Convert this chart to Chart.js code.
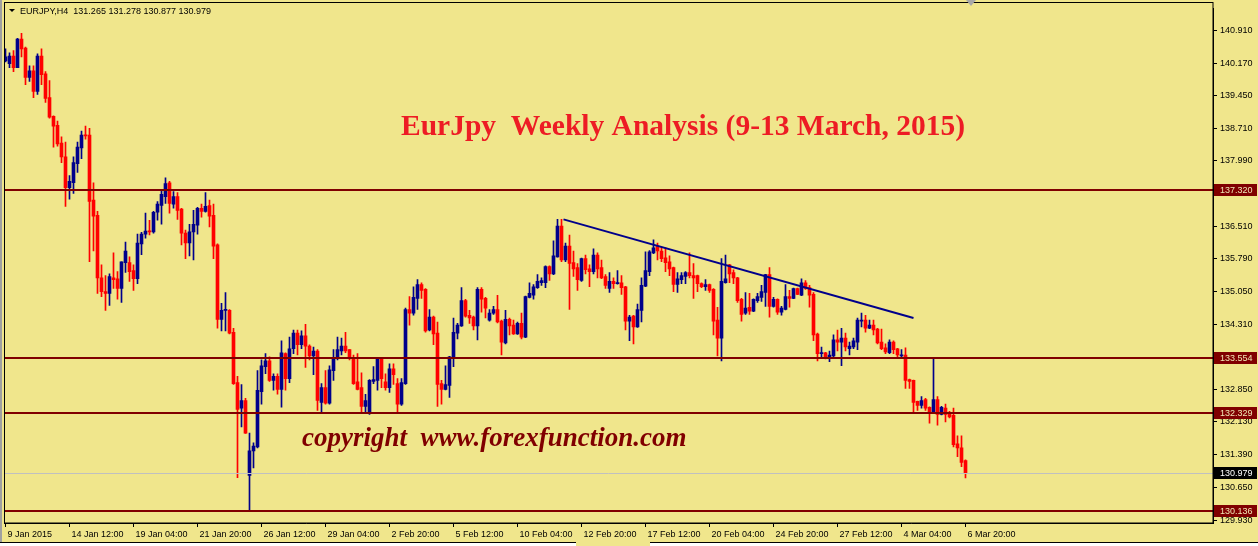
<!DOCTYPE html>
<html>
<head>
<meta charset="utf-8">
<title>EURJPY H4</title>
<script src="https://cdn.jsdelivr.net/npm/chart.js@4.4.1/dist/chart.umd.min.js"></script>
<style>
  html, body { margin: 0; padding: 0; background: #f0e68c; overflow: hidden; }
  #chart { display: block; }
</style>
</head>
<body>
<canvas id="chart" width="1258" height="546"></canvas>
<script>
// --- EURJPY H4 bars, 9 Jan 2015 20:00 .. 6 Mar 2015 20:00 ---
const opens = [
  140.22, 140.16, 140.33, 140.07, 140.71, 140.51, 139.85, 140.00, 139.54, 140.33,
  139.93, 139.40, 138.98, 138.78, 138.38, 138.07, 137.38, 137.49, 137.92, 138.27,
  138.56, 138.56, 137.10, 136.76, 135.36, 135.05, 135.01, 135.36, 135.34, 135.12,
  135.70, 135.70, 135.52, 135.34, 136.12, 136.34, 136.41, 136.39, 136.83, 136.98,
  137.18, 137.49, 137.01, 137.18, 136.90, 136.36, 136.14, 136.39, 136.54, 136.92,
  136.85, 136.98, 136.76, 136.10, 134.43, 134.63, 134.63, 134.14, 133.01, 132.44,
  132.61, 130.93, 131.48, 131.57, 132.81, 133.37, 133.50, 133.06, 133.15, 132.86,
  133.66, 133.10, 133.77, 134.12, 133.86, 134.06, 133.83, 133.61, 133.72, 132.57,
  132.90, 132.55, 133.28, 133.55, 133.72, 133.83, 133.75, 133.57, 133.03, 132.90,
  132.48, 132.33, 133.04, 133.06, 133.57, 133.03, 132.90, 133.32, 132.99, 132.53,
  132.99, 134.65, 134.57, 134.90, 135.21, 135.10, 134.19, 134.48, 134.12, 132.99,
  132.86, 132.95, 133.57, 134.12, 134.28, 134.85, 134.52, 134.48, 134.28, 135.10,
  134.90, 134.41, 134.57, 134.65, 134.39, 133.90, 134.43, 134.30, 134.10, 134.34,
  134.03, 134.92, 134.97, 135.14, 135.25, 135.25, 135.61, 135.45, 135.83, 136.52,
  135.76, 136.07, 135.70, 135.59, 135.30, 135.79, 135.56, 135.50, 135.87, 135.59,
  135.39, 135.12, 135.28, 135.23, 135.25, 135.16, 134.39, 134.50, 134.26, 134.63,
  135.17, 135.50, 135.92, 136.07, 135.96, 135.81, 135.72, 135.59, 135.21, 135.32,
  135.39, 135.48, 135.41, 135.41, 135.23, 135.16, 135.21, 135.10, 134.41, 134.01,
  135.25, 135.65, 135.48, 135.36, 134.88, 134.57, 134.70, 134.61, 134.85, 134.92,
  135.03, 135.43, 134.72, 134.88, 134.59, 134.65, 134.94, 134.90, 135.12, 134.97,
  135.25, 135.14, 134.99, 134.10, 133.66, 133.68, 133.55, 133.61, 133.97, 133.92,
  134.01, 133.77, 133.81, 133.92, 134.39, 134.41, 134.23, 134.30, 134.21, 133.92,
  133.79, 133.68, 133.92, 133.77, 133.61, 133.63, 133.08, 133.06, 132.59, 132.50,
  132.63, 132.46, 132.35, 132.63, 132.30, 132.44, 132.33, 132.28, 131.64, 131.55,
  131.265
];
const highs = [
  140.49, 140.40, 140.45, 140.73, 140.84, 140.53, 140.11, 140.11, 140.38, 140.49,
  139.98, 139.78, 138.99, 138.87, 138.52, 138.40, 137.65, 138.07, 138.40, 138.65,
  138.76, 138.71, 137.49, 136.85, 135.65, 135.41, 135.45, 135.92, 135.50, 135.72,
  136.16, 135.83, 135.65, 136.34, 136.38, 136.81, 136.65, 136.85, 137.07, 137.34,
  137.60, 137.52, 137.29, 137.27, 136.92, 136.43, 136.56, 136.87, 136.94, 137.01,
  137.27, 137.10, 137.01, 136.12, 134.79, 135.03, 134.65, 134.23, 133.15, 132.97,
  132.66, 131.88, 131.66, 133.28, 133.52, 133.66, 133.59, 133.21, 133.21, 133.95,
  133.68, 134.03, 134.19, 134.19, 134.17, 134.32, 133.86, 133.81, 133.75, 132.99,
  133.28, 133.39, 133.75, 134.03, 134.01, 134.14, 133.75, 133.63, 133.66, 133.23,
  132.75, 133.08, 133.37, 133.58, 133.58, 133.21, 133.43, 133.43, 133.10, 133.10,
  134.68, 134.94, 135.16, 135.32, 135.25, 135.12, 134.65, 134.50, 134.37, 133.06,
  133.39, 133.60, 134.46, 134.34, 135.14, 134.88, 134.63, 134.50, 135.14, 135.14,
  134.92, 134.65, 134.72, 134.97, 134.41, 134.63, 134.46, 134.41, 134.37, 134.57,
  134.95, 135.25, 135.21, 135.43, 135.36, 135.63, 135.63, 136.19, 136.67, 136.67,
  136.14, 136.32, 135.96, 135.68, 135.80, 135.87, 135.65, 136.01, 135.92, 135.76,
  135.43, 135.48, 135.36, 135.52, 135.41, 135.17, 134.52, 134.52, 134.77, 135.36,
  135.94, 135.97, 136.21, 136.14, 136.05, 136.03, 135.85, 135.60, 135.48, 135.48,
  135.50, 135.92, 135.68, 135.42, 135.25, 135.32, 135.22, 135.12, 134.70, 135.79,
  135.87, 135.66, 135.54, 135.37, 134.90, 135.03, 135.01, 134.89, 135.01, 135.19,
  135.44, 135.59, 134.92, 134.89, 134.72, 135.21, 135.08, 135.13, 135.13, 135.34,
  135.30, 135.19, 135.03, 134.12, 133.81, 133.69, 133.72, 134.08, 134.19, 134.23,
  134.12, 133.92, 134.01, 134.46, 134.57, 134.52, 134.41, 134.41, 134.23, 134.21,
  133.88, 133.97, 133.95, 133.78, 133.75, 133.79, 133.09, 133.07, 132.60, 132.70,
  132.66, 132.47, 133.57, 132.70, 132.48, 132.53, 132.37, 132.44, 131.82, 131.82,
  131.278
];
const lows = [
  140.20, 140.07, 139.98, 140.07, 140.31, 139.69, 139.76, 139.40, 139.47, 139.69,
  139.29, 138.94, 138.29, 138.31, 137.94, 136.96, 137.12, 137.25, 137.72, 138.03,
  138.47, 135.72, 135.96, 135.01, 134.94, 134.63, 134.74, 135.12, 134.88, 134.81,
  135.48, 135.28, 135.08, 135.23, 135.88, 136.25, 136.32, 136.36, 136.65, 136.56,
  137.03, 136.81, 136.92, 136.67, 136.10, 135.79, 135.85, 135.76, 136.34, 136.72,
  136.83, 136.50, 135.79, 134.23, 134.17, 134.17, 134.10, 132.97, 130.88, 132.02,
  131.87, 130.12, 131.10, 131.55, 132.53, 133.21, 133.04, 132.84, 132.75, 132.46,
  132.84, 133.01, 133.66, 133.63, 133.77, 133.35, 133.52, 133.19, 132.39, 132.35,
  132.53, 132.53, 133.06, 133.52, 133.63, 133.68, 133.52, 132.97, 132.85, 132.33,
  132.35, 132.30, 132.99, 132.84, 132.90, 132.84, 132.79, 132.97, 132.35, 132.50,
  132.97, 134.30, 134.52, 134.65, 134.90, 134.14, 134.17, 133.86, 132.48, 132.53,
  132.85, 132.68, 133.37, 133.99, 134.27, 134.48, 134.34, 134.19, 133.97, 134.59,
  134.46, 134.39, 134.54, 134.35, 133.63, 133.88, 134.08, 134.09, 134.09, 133.99,
  134.02, 134.91, 134.88, 135.12, 135.19, 135.14, 135.30, 135.43, 135.82, 135.72,
  135.72, 134.65, 135.39, 135.08, 135.28, 135.45, 135.16, 135.45, 135.36, 135.34,
  135.12, 135.03, 135.12, 135.22, 134.99, 134.19, 133.95, 133.88, 134.25, 134.37,
  135.16, 135.41, 135.90, 135.76, 135.72, 135.50, 135.41, 135.05, 135.03, 135.23,
  135.23, 135.36, 134.90, 135.05, 135.14, 135.08, 135.03, 134.08, 133.61, 133.50,
  135.24, 135.25, 135.23, 134.81, 134.39, 134.54, 134.54, 134.60, 134.81, 134.83,
  134.72, 134.48, 134.70, 134.54, 134.52, 134.64, 134.70, 134.89, 134.98, 134.96,
  135.10, 134.70, 133.95, 133.50, 133.55, 133.54, 133.48, 133.59, 133.72, 133.39,
  133.72, 133.63, 133.77, 133.75, 134.26, 134.14, 134.22, 134.08, 133.88, 133.75,
  133.66, 133.66, 133.66, 133.55, 133.55, 132.88, 132.88, 132.35, 132.39, 132.44,
  132.39, 132.10, 132.34, 132.06, 132.29, 132.13, 132.22, 131.57, 131.35, 131.13,
  130.877
];
const closes = [
  140.31, 140.33, 140.07, 140.71, 140.49, 139.85, 140.00, 139.54, 140.33, 139.91,
  139.38, 138.96, 138.76, 138.36, 138.07, 137.38, 137.52, 137.94, 138.29, 138.56,
  138.54, 137.07, 136.74, 135.36, 135.05, 135.01, 135.39, 135.32, 135.12, 135.72,
  135.96, 135.50, 135.34, 136.14, 136.34, 136.41, 136.39, 136.83, 137.01, 137.23,
  137.47, 137.03, 137.18, 136.87, 136.36, 136.14, 136.39, 136.56, 136.92, 136.85,
  136.96, 136.74, 136.07, 134.43, 134.63, 134.65, 134.12, 132.99, 132.41, 132.61,
  131.88, 131.48, 131.59, 132.84, 133.39, 133.50, 133.06, 133.15, 132.86, 133.68,
  133.10, 133.77, 134.12, 133.86, 134.06, 133.83, 133.61, 133.72, 132.61, 132.90,
  132.55, 133.30, 133.55, 133.75, 133.83, 133.72, 133.55, 132.99, 132.86, 132.48,
  132.61, 133.06, 133.08, 133.57, 133.10, 132.90, 133.32, 133.19, 132.53, 133.01,
  134.65, 134.57, 134.92, 135.21, 135.08, 134.17, 134.48, 134.10, 132.97, 132.86,
  132.97, 133.59, 134.14, 134.30, 134.85, 134.50, 134.46, 134.28, 135.10, 134.88,
  134.68, 134.57, 134.65, 134.37, 133.92, 134.43, 134.28, 134.10, 134.34, 134.03,
  134.94, 135.01, 135.16, 135.28, 135.30, 135.61, 135.45, 135.85, 136.52, 135.76,
  136.07, 135.68, 135.56, 135.32, 135.79, 135.54, 135.50, 135.87, 135.56, 135.36,
  135.19, 135.28, 135.23, 135.25, 135.14, 134.39, 134.48, 134.26, 134.65, 135.19,
  135.52, 135.94, 136.03, 135.96, 135.79, 135.70, 135.56, 135.21, 135.34, 135.41,
  135.48, 135.41, 135.36, 135.23, 135.16, 135.21, 135.08, 134.39, 134.01, 135.28,
  135.34, 135.45, 135.36, 134.85, 134.54, 134.68, 134.61, 134.88, 134.94, 135.05,
  135.43, 134.72, 134.88, 134.59, 134.68, 134.94, 134.90, 135.12, 134.99, 135.25,
  135.12, 134.97, 134.08, 133.66, 133.68, 133.55, 133.63, 133.97, 133.92, 134.01,
  133.81, 133.83, 133.95, 134.41, 134.41, 134.23, 134.30, 134.19, 133.90, 133.77,
  133.70, 133.92, 133.75, 133.63, 133.63, 133.06, 133.04, 132.57, 132.50, 132.61,
  132.44, 132.35, 132.63, 132.30, 132.46, 132.30, 132.24, 131.62, 131.55, 131.22,
  130.979
];

// time axis: one label every 16 bars
const timeLabels = [
  '9 Jan 2015', '14 Jan 12:00', '19 Jan 04:00', '21 Jan 20:00', '26 Jan 12:00',
  '29 Jan 04:00', '2 Feb 20:00', '5 Feb 12:00', '10 Feb 04:00', '12 Feb 20:00',
  '17 Feb 12:00', '20 Feb 04:00', '24 Feb 20:00', '27 Feb 12:00', '4 Mar 04:00',
  '6 Mar 20:00'
];
const barsPerLabel = 16;

// price scale
const priceTicks = [
  140.910, 140.170, 139.450, 138.710, 137.990, 137.250, 136.510, 135.790,
  135.050, 134.310, 133.590, 132.850, 132.130, 131.390, 130.650, 129.930
];
const priceMin = 129.865;
const priceMax = 141.398;

// horizontal levels, bid and trend line
const levels = [137.320, 133.554, 132.329, 130.136];
const bidPrice = 130.979;
const trendBars = [139.5, 227];
const trendPrices = [136.67, 134.46];

const headerText = 'EURJPY,H4  131.265 131.278 130.877 130.979';
const titleText = 'EurJpy  Weekly Analysis (9-13 March, 2015)';
const copyText = 'copyright  www.forexfunction.com';

// --- colours ---
const BG = '#f0e68c';
const BULL = '#00008b';
const BEAR = '#ff0000';
const LEVEL = '#800000';
const AXIS_FONT = { family: 'Liberation Sans', size: 9 };

// --- build datasets ---
const barColors = opens.map((o, i) => (closes[i] >= o ? BULL : BEAR));
const wicks = opens.map((_, i) => ({ x: i, y: [lows[i], highs[i]] }));
const bodies = opens.map((o, i) => ({ x: i, y: [o, closes[i]] }));
const trend = trendBars.map((b, k) => ({ x: b, y: trendPrices[k] }));

function fitFont(ctx, text, style, family, width) {
  let size = 40;
  ctx.font = `${style} ${size}px ${family}`;
  while (size > 8 && ctx.measureText(text).width > width) {
    size -= 0.5;
    ctx.font = `${style} ${size}px ${family}`;
  }
  return ctx.font;
}

function priceBox(ctx, y, text, bg, fg) {
  ctx.fillStyle = bg;
  ctx.fillRect(1214, Math.round(y) - 6, 43, 12);
  ctx.fillStyle = fg;
  ctx.font = '9px "Liberation Sans"';
  ctx.textAlign = 'left';
  ctx.textBaseline = 'middle';
  ctx.fillText(text, 1220, Math.round(y) + 0.5);
}

const decorations = {
  id: 'decorations',
  beforeDraw(chart) {
    const ctx = chart.ctx;
    ctx.save();
    ctx.fillStyle = BG;
    ctx.fillRect(0, 0, chart.width, chart.height);
    ctx.restore();
  },
  afterDatasetsDraw(chart) {
    const ctx = chart.ctx;
    const area = chart.chartArea;
    const yScale = chart.scales.y;
    ctx.save();
    // bid line
    let y = Math.round(yScale.getPixelForValue(bidPrice)) + 0.5;
    ctx.strokeStyle = '#c0c0c0';
    ctx.lineWidth = 1;
    ctx.beginPath();
    ctx.moveTo(area.left, y);
    ctx.lineTo(area.right, y);
    ctx.stroke();
    // support / resistance levels
    ctx.strokeStyle = LEVEL;
    ctx.lineWidth = 2;
    levels.forEach(level => {
      y = Math.round(yScale.getPixelForValue(level));
      ctx.beginPath();
      ctx.moveTo(area.left, y);
      ctx.lineTo(area.right, y);
      ctx.stroke();
    });
    ctx.restore();
  },
  afterDraw(chart) {
    const ctx = chart.ctx;
    const area = chart.chartArea;
    const yScale = chart.scales.y;
    ctx.save();

    // frame
    ctx.strokeStyle = '#000';
    ctx.lineWidth = 1;
    ctx.strokeRect(4.5, 2.5, area.right - 4.5, area.bottom - 2.5);

    // left grey strip
    ctx.fillStyle = '#a0a0a0';
    ctx.fillRect(0, 0, 2, chart.height);

    // bottom tab strip
    ctx.fillStyle = '#ffffff';
    ctx.fillRect(0, 543, 576, 3);
    ctx.fillRect(650, 543, chart.width - 650, 3);
    ctx.strokeStyle = '#000';
    ctx.beginPath();
    ctx.moveTo(0, 542.5); ctx.lineTo(576, 542.5);
    ctx.moveTo(650, 542.5); ctx.lineTo(chart.width, 542.5);
    ctx.stroke();

    // shift marker
    ctx.fillStyle = '#a8a8a8';
    ctx.beginPath();
    ctx.moveTo(966, 0); ctx.lineTo(976, 0); ctx.lineTo(971, 6);
    ctx.closePath();
    ctx.fill();

    // header
    ctx.fillStyle = '#000';
    ctx.beginPath();
    ctx.moveTo(9, 9); ctx.lineTo(15, 9); ctx.lineTo(12, 12);
    ctx.closePath();
    ctx.fill();
    ctx.font = '9px "Liberation Sans"';
    ctx.textAlign = 'left';
    ctx.textBaseline = 'alphabetic';
    ctx.fillText(headerText, 20, 14);

    // title
    ctx.font = fitFont(ctx, titleText, 'bold', '"Liberation Serif"', 568);
    ctx.fillStyle = '#ed1c24';
    ctx.fillText(titleText, 401, 135);

    // copyright
    ctx.font = fitFont(ctx, copyText, 'italic bold', '"Liberation Serif"', 388);
    ctx.fillStyle = '#800000';
    ctx.fillText(copyText, 302, 446);

    // price boxes on the axis
    levels.forEach(level => {
      priceBox(ctx, yScale.getPixelForValue(level), level.toFixed(3), LEVEL, '#f0e6b4');
    });
    priceBox(ctx, yScale.getPixelForValue(bidPrice), bidPrice.toFixed(3), '#000', '#fff');

    ctx.restore();
  }
};

new Chart(document.getElementById('chart'), {
  type: 'bar',
  data: {
    datasets: [
      {
        type: 'line',
        data: trend,
        borderColor: BULL,
        borderWidth: 2,
        pointRadius: 0,
        order: 0
      },
      {
        data: bodies,
        backgroundColor: barColors,
        barThickness: 3,
        minBarLength: 1,
        grouped: false,
        order: 1
      },
      {
        data: wicks,
        backgroundColor: barColors,
        barThickness: 1,
        grouped: false,
        order: 2
      }
    ]
  },
  options: {
    responsive: false,
    animation: false,
    events: [],
    layout: { padding: { left: 4, top: 3, right: 0, bottom: 0 } },
    plugins: { legend: { display: false }, tooltip: { enabled: false } },
    scales: {
      x: {
        type: 'linear',
        min: -0.375,
        max: 301.875,
        offset: false,
        afterBuildTicks: scale => {
          scale.ticks = timeLabels.map((_, k) => ({ value: k * barsPerLabel }));
        },
        afterFit: scale => { scale.height = 23; },
        ticks: {
          callback: value => timeLabels[Math.round(value / barsPerLabel)],
          align: 'start',
          labelOffset: 2,
          maxRotation: 0,
          autoSkip: false,
          padding: 2,
          color: '#000',
          font: AXIS_FONT
        },
        grid: { drawOnChartArea: false, offset: false, tickLength: 4, color: '#000' },
        border: { color: '#000' }
      },
      y: {
        position: 'right',
        min: priceMin,
        max: priceMax,
        afterBuildTicks: scale => {
          scale.ticks = priceTicks.map(v => ({ value: v }));
        },
        afterFit: scale => { scale.width = 45; },
        ticks: {
          callback: value => value.toFixed(3),
          autoSkip: false,
          padding: 3,
          color: '#000',
          font: AXIS_FONT
        },
        grid: { drawOnChartArea: false, tickLength: 4, color: '#000' },
        border: { color: '#000' }
      }
    }
  },
  plugins: [decorations]
});
</script>
</body>
</html>
